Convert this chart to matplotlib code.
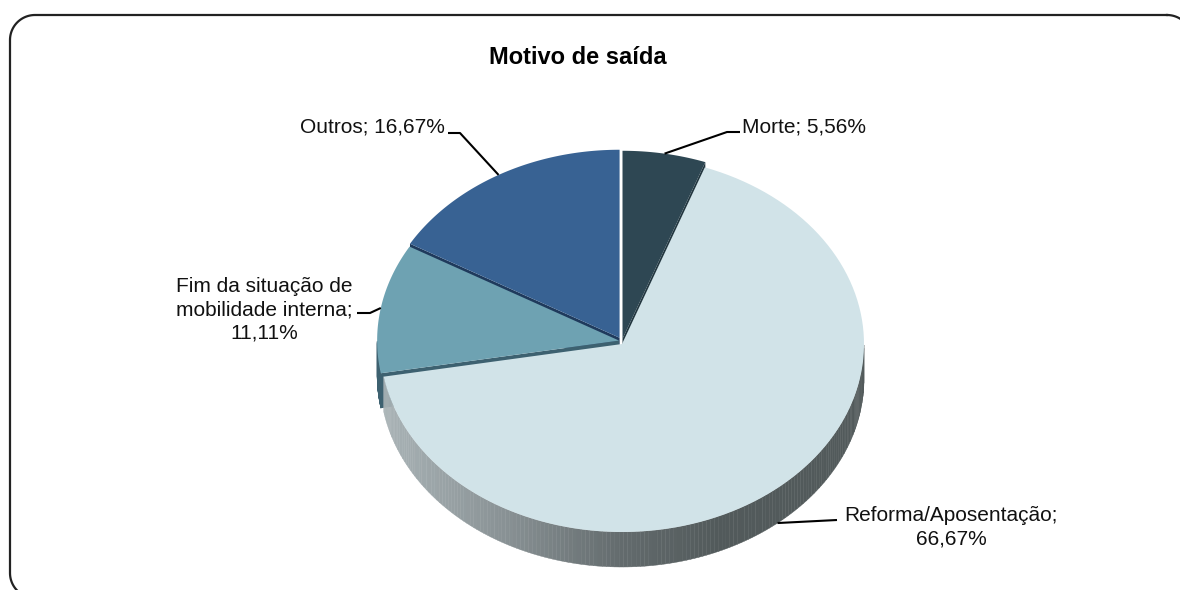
import numpy as np
import matplotlib
matplotlib.use('Agg')
import matplotlib.pyplot as plt
from matplotlib.colors import to_rgb

plt.rcParams['font.family'] = ['Liberation Sans', 'DejaVu Sans']

# --Dados
categorias = ['Morte', 'Reforma/Aposentação', 'Fim da situação de mobilidade interna', 'Outros']
valores = [5.56, 66.67, 11.11, 16.67]
rotulos = ['Morte; 5,56%', 'Reforma/Aposentação;\n66,67%',
           'Fim da situação de\nmobilidade interna;\n11,11%', 'Outros; 16,67%']
titulo = 'Motivo de saída'

# --Estilo
cores = ['#2e4753', '#d1e3e8', '#6ea2b2', '#386293']
cores_face = ['#22363f', '#8d9a9e', '#3d6170', '#1f3a5c']
explodir = [0.012, 0.0, 0.012, 0.02]
cx, cy, rx, ry, prof, elev = 622, 344, 242, 188, 35, 3

# --Geometria da pizza 3D (sentido horario a partir das 12h)
total = sum(valores)
ang = 360 * np.array(valores) / total
a_fim = 90 - np.cumsum(ang)
a_ini = a_fim + ang
a_meio = (a_ini + a_fim) / 2
desl = []
for e, m in zip(explodir, a_meio):
    dz = elev if e > 0 else 0
    desl.append((e * rx * np.cos(np.radians(m)), -e * ry * np.sin(np.radians(m)) - dz))


def borda(t, o, z=0.0):
    t = np.radians(t)
    return cx + o[0] + rx * np.cos(t), cy + o[1] - ry * np.sin(t) + z


def arco(a, b, o, z=0.0, n=120):
    t = np.linspace(a, b, n)
    x, y = borda(t, o, z)
    return list(zip(x, y))


fig = plt.figure(figsize=(11.8, 5.9), dpi=100)
ax = fig.add_axes([0, 0, 1, 1])
ax.set_xlim(0, 1180)
ax.set_ylim(590, 0)
ax.axis('off')

# --Faces laterais e paredes (de tras para a frente)
for i in [3, 2, 0, 1]:
    a, b, o = a_fim[i], a_ini[i], desl[i]
    apex = (cx + o[0], cy + o[1])
    for t, vis in [(a, np.cos(np.radians(a)) > 0.01), (b, np.cos(np.radians(b)) < -0.01)]:
        if vis:
            p1 = borda(t, o)
            poly = [apex, p1, (p1[0], p1[1] + prof), (apex[0], apex[1] + prof)]
            ax.fill(*zip(*poly), color=cores_face[i], lw=0)
    # parede exterior visivel (metade de baixo)
    ts = np.linspace(a, b, 240)
    ts = ts[np.sin(np.radians(ts)) < 0]
    if len(ts) > 1:
        for t0, t1 in zip(ts[:-1], ts[1:]):
            if i == 1:
                c = np.cos(np.radians((t0 + t1) / 2))
                rgb = [np.interp(c, [-1, -0.5, 0, 0.4, 1], [k1, k2, k3, k4, k4])
                       for k1, k2, k3, k4 in zip(to_rgb('#aab4b7'), to_rgb('#8a9396'),
                                                 to_rgb('#636b6d'), to_rgb('#525a5b'))]
            else:
                rgb = cores_face[i]
            poly = arco(t0, t1, o, n=2) + arco(t1, t0, o, prof, n=2)
            ax.fill(*zip(*poly), color=rgb, lw=0.3, ec=rgb)

# --Topos das fatias
for i in [1, 3, 2, 0]:
    o = desl[i]
    poly = [(cx + o[0], cy + o[1])] + arco(a_fim[i], a_ini[i], o)
    ax.fill(*zip(*poly), color=cores[i], lw=0)

# --Rotulos com linhas de chamada
ancoras = [borda(a_meio[0], desl[0]), borda(a_meio[1], desl[1], prof),
           borda(a_meio[2], desl[2]), borda(a_meio[3], desl[3])]
cotovelos = [[(727, 132), (740, 132)], [(837, 520)],
             [(370, 313), (357, 313)], [(460, 133), (448, 133)]]
pos_texto = [(742, 127, 'left'), (951, 527, 'center'), (264, 310, 'center'), (445, 127, 'right')]
for anc, cot, (tx, ty, ha), txt in zip(ancoras, cotovelos, pos_texto, rotulos):
    pts = [anc] + cot
    ax.plot(*zip(*pts), color='black', lw=1.5, solid_capstyle='butt')
    ax.text(tx, ty, txt, ha=ha, va='center', fontsize=15, color='#111111',
            multialignment='center', linespacing=1.28)

ax.text(578, 57, titulo, ha='center', va='center', fontsize=17, fontweight='bold')

# --Moldura arredondada
x0, y0, x1, y1, r = 10, 15, 1192, 598, 25
cantos = [(x1 - r, y0 + r, 90, 0), (x1 - r, y1 - r, 0, -90),
          (x0 + r, y1 - r, -90, -180), (x0 + r, y0 + r, 180, 90)]
mx, my = [], []
for ccx, ccy, t0, t1 in cantos:
    t = np.radians(np.linspace(t0, t1, 30))
    mx += list(ccx + r * np.cos(t))
    my += list(ccy - r * np.sin(t))
mx.append(mx[0])
my.append(my[0])
ax.plot(mx, my, color='#222222', lw=1.6)

fig.savefig('out.png', dpi=100)
